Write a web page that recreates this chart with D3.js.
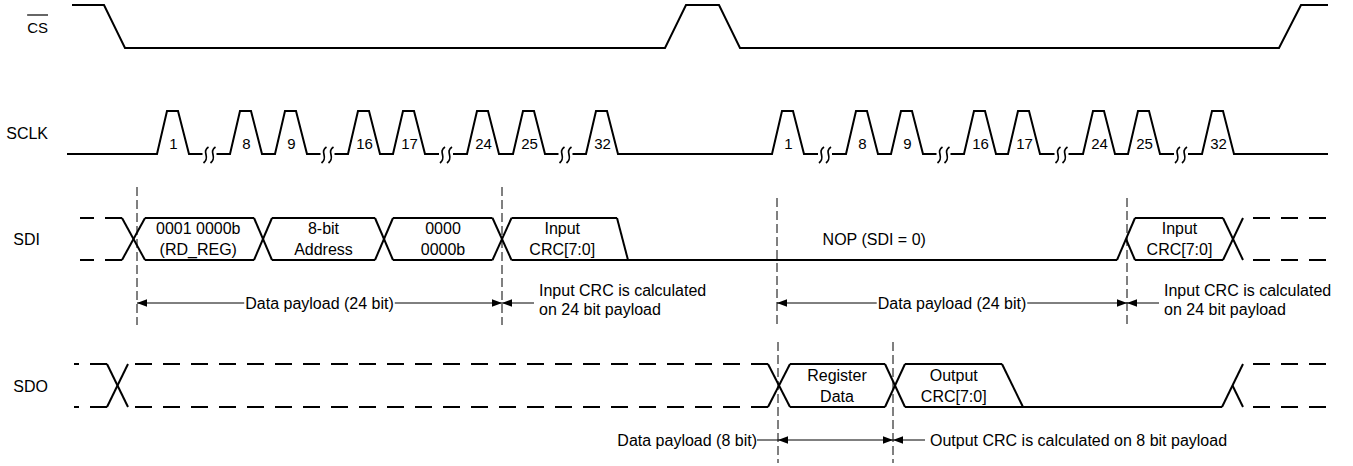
<!DOCTYPE html>
<html>
<head>
<meta charset="utf-8">
<style>
  body { margin: 0; background: #fff; }
  text { font-family: "Liberation Sans", Arial, sans-serif; fill: #000; }
</style>
</head>
<body>
<svg width="1353" height="466"></svg>
<script src="https://d3js.org/d3.v7.min.js"></script>
<script>
// rows of the diagram
var signals = ["CS", "SCLK", "SDI", "SDO"];

// CS waveform: [time, level]
var csWave = [[72,1],[104,1],[125,0],[665,0],[686,1],[719,1],[740,0],[1279,0],[1301,1],[1328,1]];

// SCLK: pulse start times of the two frames + labels
var clkLabels = ["1","8","9","16","17","24","25","32"];
var clkFrame1 = [157,230,275,348,393,467,513,586];
var clkFrame2 = [772,846,891,964,1008,1083,1128,1202];
var clkSpan = [67, 1328];

// SDI bus: transition centres, half widths, states in between
var sdiEdges = [133.5, 263, 384, 502, 622.5, 1126, 1233];
var sdiHalf  = [11.5, 9, 9, 9.5, 5.5, 9, 10];
var sdiKinds = ["undef", "data", "data", "data", "data", "low", "data", "undef"];
var sdiTexts = [null, ["0001 0000b","(RD_REG)"], ["8-bit","Address"], ["0000","0000b"],
                ["Input","CRC[7:0]"], ["NOP (SDI = 0)"], ["Input","CRC[7:0]"], null];
var sdiSpan = [80, 1328];

// SDO bus
var sdoEdges = [117.5, 779, 895, 1012.5, 1232.5];
var sdoHalf  = [10.5, 11, 10, 10.5, 10.5];
var sdoKinds = ["undef", "undef", "data", "data", "low", "undef"];
var sdoTexts = [null, null, ["Register","Data"], ["Output","CRC[7:0]"], null, null];
var sdoSpan = [74, 1328];

// dashed reference markers
var sdiMarkers = [137, 502, 777, 1127];
var sdoMarkers = [778, 893];

// dimension arrows
var sdiDims = [[137, 502, "Data payload (24 bit)"], [777, 1127, "Data payload (24 bit)"]];
var sdiNotes = [[502, ["Input CRC is calculated", "on 24 bit payload"]],
                [1127, ["Input CRC is calculated", "on 24 bit payload"]]];
var sdoDims = [[778, 893, ""]];
var sdoNotes = [[893, ["Output CRC is calculated on 8 bit payload"]]];
var sdoLeadNote = [778, "Data payload (8 bit)"];

var svg = d3.select("svg");
var W = +svg.attr("width");

// scales
var x = d3.scaleLinear().domain([0, W]).range([0, W]);
var rowTop = d3.scaleOrdinal().domain(signals).range([5, 111, 218, 364]);
var rowH = {CS: 43, SCLK: 43, SDI: 42, SDO: 43};
function lvl(row) {
  return d3.scaleLinear().domain([0, 1]).range([rowTop(row) + rowH[row], rowTop(row)]);
}
var labelX = {CS: 48, SCLK: 48, SDI: 40, SDO: 48};

var line = d3.line();
function seg(g, pts, w, dash, off) {
  var p = g.append("path").attr("d", line(pts)).attr("fill", "none")
    .attr("stroke", "#000").attr("stroke-width", w || 2);
  if (dash) p.attr("stroke-dasharray", dash).attr("stroke-dashoffset", off || 0);
  return p;
}

var g = svg.append("g");

// signal names
signals.forEach(function(s) {
  var t = g.append("text").attr("x", labelX[s]).attr("y", lvl(s)(0) - 15)
    .attr("text-anchor", "end").attr("font-size", s === "CS" ? 15 : 16).text(s);
  if (s === "CS") {
    var w = t.node().getComputedTextLength();
    seg(g, [[labelX[s] - w, lvl(s)(0) - 33], [labelX[s], lvl(s)(0) - 33]], 1.2);
  }
});

// CS
var yCS = lvl("CS");
seg(g, csWave.map(function(d) { return [x(d[0]), yCS(d[1])]; }));

// SCLK
var yCK = lvl("SCLK");
var ckPts = [[x(clkSpan[0]), yCK(0)]];
var breaks = [];
[clkFrame1, clkFrame2].forEach(function(fr) {
  fr.forEach(function(s, i) {
    ckPts.push([x(s), yCK(0)], [x(s + 10), yCK(1)], [x(s + 21), yCK(1)], [x(s + 32), yCK(0)]);
    g.append("text").attr("x", x(s + 16.5)).attr("y", yCK(0) - 5)
      .attr("text-anchor", "middle").attr("font-size", 15).text(clkLabels[i]);
    if (i % 2 === 0) breaks.push((s + 32 + fr[i + 1]) / 2);
  });
});
ckPts.push([x(clkSpan[1]), yCK(0)]);
seg(g, ckPts);
breaks.forEach(function(c) {
  var cx = x(c), y0 = yCK(0);
  g.append("rect").attr("x", cx - 7).attr("y", y0 - 3).attr("width", 14).attr("height", 6).attr("fill", "#fff");
  [-3.5, 3.5].forEach(function(dx) {
    var px = cx + dx;
    g.append("path")
      .attr("d", "M" + (px + 2.5) + "," + (y0 - 7) + " C" + (px - 5) + "," + (y0 - 2) + " " +
        (px + 5) + "," + (y0 + 3) + " " + (px - 2.5) + "," + (y0 + 9))
      .attr("fill", "none").attr("stroke", "#000").attr("stroke-width", 1.7);
  });
});

// buses
function drawBus(row, edges, half, kinds, texts, span) {
  var y = lvl(row), yT = y(1), yB = y(0), yM = (yT + yB) / 2;
  var n = kinds.length;
  kinds.forEach(function(k, i) {
    var a = i === 0 ? span[0] : edges[i - 1] + half[i - 1];
    var b = i === n - 1 ? span[1] : edges[i] - half[i];
    if (k === "undef") {
      if (i < n - 1) {
        seg(g, [[x(b), yT], [x(a), yT]], 2, "17,11", 0);
        seg(g, [[x(b), yB], [x(a), yB]], 2, "17,11", 0);
      } else {
        seg(g, [[x(a), yT], [x(b), yT]], 2, "17,11", 18);
        seg(g, [[x(a), yB], [x(b), yB]], 2, "17,11", 18);
      }
    } else if (k === "data") {
      seg(g, [[x(a), yT], [x(b), yT]]);
      seg(g, [[x(a), yB], [x(b), yB]]);
    } else {
      var a2 = (i > 0 && kinds[i - 1] === "data") ? edges[i - 1] - half[i - 1] : a;
      seg(g, [[x(a2), yB], [x(b), yB]]);
    }
    if (texts[i]) {
      var c0 = i === 0 ? span[0] : edges[i - 1], c1 = i === n - 1 ? span[1] : edges[i];
      var lines = texts[i];
      lines.forEach(function(t, j) {
        g.append("text").attr("x", x((c0 + c1) / 2))
          .attr("y", yM + 5.6 + (j - (lines.length - 1) / 2) * 21)
          .attr("text-anchor", "middle").attr("font-size", 16).text(t);
      });
    }
  });
  edges.forEach(function(t, i) {
    var A = kinds[i], B = kinds[i + 1], h = half[i];
    if (A !== "low" && B !== "low") {
      seg(g, [[x(t - h), yT], [x(t + h), yB]]);
      seg(g, [[x(t - h), yB], [x(t + h), yT]]);
    } else if (A === "low") {
      seg(g, [[x(t - h), yB], [x(t + h), yT]]);
      seg(g, [[x(t), yM], [x(t + h), yB]]);
    } else {
      seg(g, [[x(t - h), yT], [x(t + h), yB]]);
    }
  });
}
drawBus("SDI", sdiEdges, sdiHalf, sdiKinds, sdiTexts, sdiSpan);
drawBus("SDO", sdoEdges, sdoHalf, sdoKinds, sdoTexts, sdoSpan);

// markers
sdiMarkers.forEach(function(m, i) {
  seg(g, [[x(m), i < 2 ? 187 : 198], [x(m), 325]], 1, "9,4");
});
sdoMarkers.forEach(function(m) {
  seg(g, [[x(m), 342], [x(m), 463]], 1, "9,4");
});

// dimension helpers
function arrowHead(tip, dir, y) {
  g.append("path")
    .attr("d", "M" + tip + "," + y + "L" + (tip - dir * 10) + "," + (y - 3.8) + "L" + (tip - dir * 10) + "," + (y + 3.8) + "Z")
    .attr("fill", "#000");
}
function drawDims(dims, notes, y) {
  dims.forEach(function(d) {
    var a = x(d[0]), b = x(d[1]), m = (a + b) / 2;
    if (d[2]) {
      var t = g.append("text").attr("x", m).attr("y", y + 5.6)
        .attr("text-anchor", "middle").attr("font-size", 16).text(d[2]);
      var w = t.node().getComputedTextLength();
      seg(g, [[a, y], [m - w / 2 - 1, y]], 1);
      seg(g, [[m + w / 2 + 1, y], [b, y]], 1);
    } else {
      seg(g, [[a, y], [b, y]], 1);
    }
    arrowHead(a, -1, y);
    arrowHead(b, 1, y);
  });
  notes.forEach(function(nt) {
    var a = x(nt[0]);
    seg(g, [[a, y], [a + 32, y]], 1);
    arrowHead(a, -1, y);
    var lines = nt[1];
    lines.forEach(function(t, j) {
      g.append("text").attr("x", a + 37)
        .attr("y", y + (lines.length > 1 ? 2.5 : 5.6) + (j - (lines.length - 1) / 2) * 19)
        .attr("font-size", 16).text(t);
    });
  });
}
drawDims(sdiDims, sdiNotes, 303);
drawDims(sdoDims, sdoNotes, 440);

// lead note left of the SDO payload
(function() {
  var a = x(sdoLeadNote[0]), y = 440;
  g.append("text").attr("x", a - 21).attr("y", y + 5.6)
    .attr("text-anchor", "end").attr("font-size", 16).text(sdoLeadNote[1]);
  seg(g, [[a - 21, y], [a, y]], 1);
})();
</script>
</body>
</html>
